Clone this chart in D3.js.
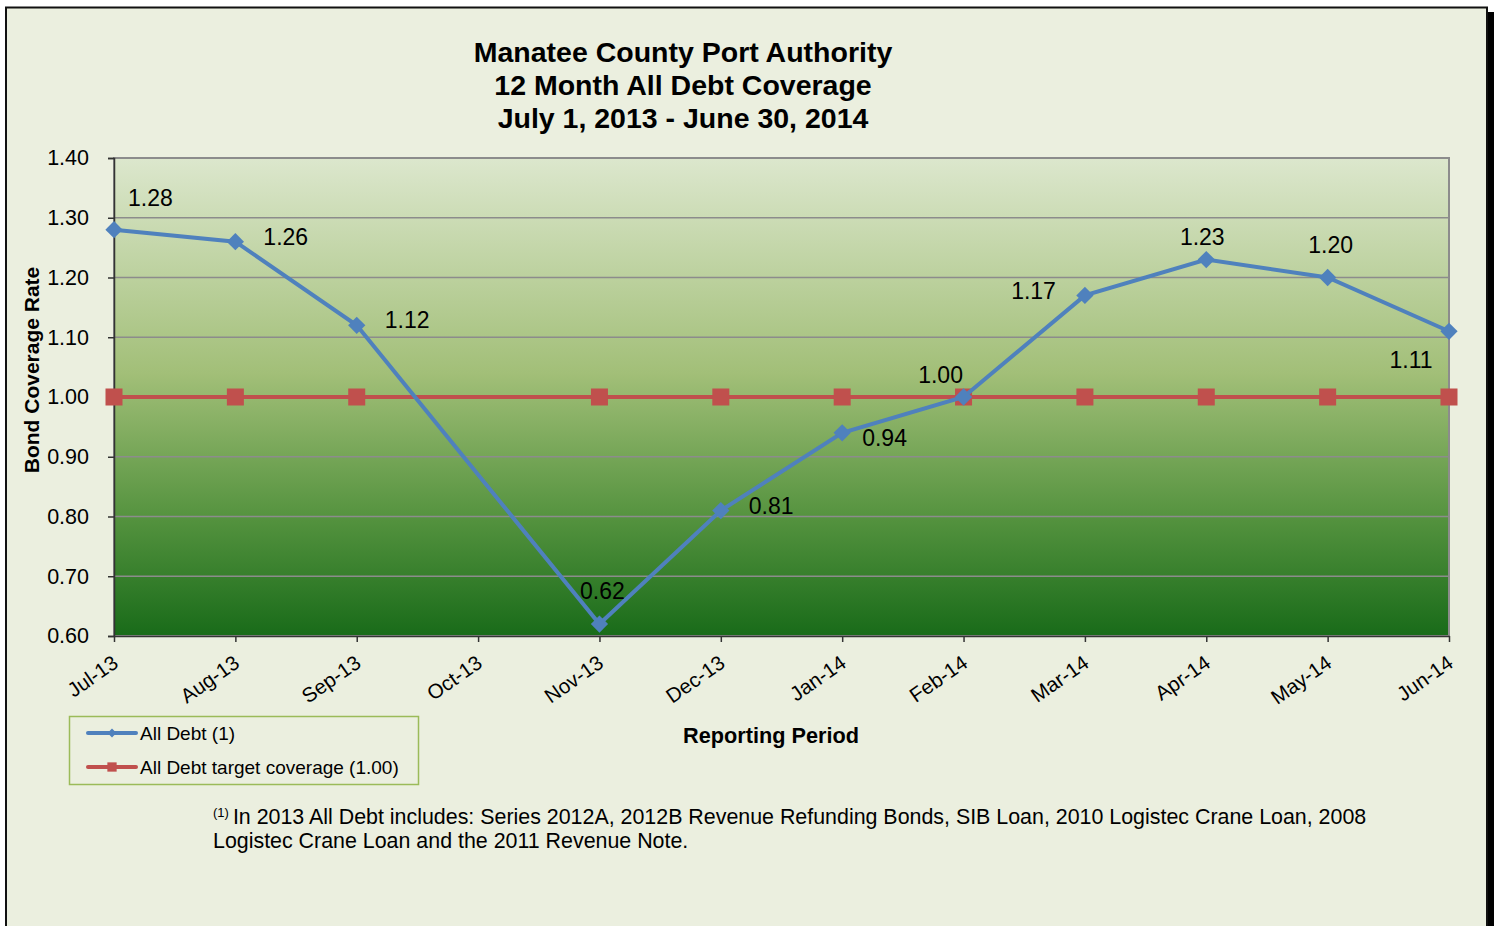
<!DOCTYPE html>
<html>
<head>
<meta charset="utf-8">
<script src="https://cdn.jsdelivr.net/npm/d3@7"></script>
<style>
  body { margin: 0; background: #fff; }
  text { font-family: "Liberation Sans", Arial, sans-serif; fill: #000; }
</style>
</head>
<body>
<svg id="chart" width="1500" height="926"></svg>
<script>
// Data
const months = ['Jul-13', 'Aug-13', 'Sep-13', 'Oct-13', 'Nov-13', 'Dec-13',
    'Jan-14', 'Feb-14', 'Mar-14', 'Apr-14', 'May-14', 'Jun-14'];
const allDebt = [1.28, 1.26, 1.12, null, 0.62, 0.81, 0.94, 1.00, 1.17, 1.23, 1.20, 1.11];
const targetCoverage = [1.00, 1.00, 1.00, null, 1.00, 1.00, 1.00, 1.00, 1.00, 1.00, 1.00, 1.00];
const yTicks = [0.60, 0.70, 0.80, 0.90, 1.00, 1.10, 1.20, 1.30, 1.40];
// where each data label sits relative to its point
const labelSide = ['upright', 'right', 'right', null, 'above', 'right',
    'rightlow', 'upleft', 'left', 'abovenear', 'above', 'downleft'];

const blue = '#4F81BD';
const red = '#C0504D';
const font = '"Liberation Sans", Arial, sans-serif';

const svg = d3.select('#chart');

// outer frame + shadow
svg.append('rect').attr('x', 1487).attr('y', 12).attr('width', 7).attr('height', 930).attr('fill', '#000');
svg.append('rect').attr('x', 6).attr('y', 7.5).attr('width', 1481).attr('height', 940)
    .attr('fill', '#EBEFDF').attr('stroke', '#111').attr('stroke-width', 2);

const margin = {left: 114, right: 1449, top: 158, bottom: 636};

const x = d3.scalePoint().domain(months).range([margin.left, margin.right]);
const y = d3.scaleLinear().domain([0.6, 1.4]).range([margin.bottom, margin.top]);

// plot area gradient
const defs = svg.append('defs');
const grad = defs.append('linearGradient').attr('id', 'plotGrad')
    .attr('x1', 0).attr('y1', 0).attr('x2', 0).attr('y2', 1);
grad.append('stop').attr('offset', '0%').attr('stop-color', '#DCE7CD');
grad.append('stop').attr('offset', '45%').attr('stop-color', '#A2BF78');
grad.append('stop').attr('offset', '75%').attr('stop-color', '#55933F');
grad.append('stop').attr('offset', '100%').attr('stop-color', '#196B19');

svg.append('rect')
    .attr('x', margin.left).attr('y', margin.top)
    .attr('width', margin.right - margin.left).attr('height', margin.bottom - margin.top)
    .attr('fill', 'url(#plotGrad)')
    .attr('stroke', '#8C8C8C').attr('stroke-width', 2);

// gridlines
svg.append('g').selectAll('line')
    .data(yTicks.slice(1, -1))
    .enter().append('line')
    .attr('x1', margin.left).attr('x2', margin.right)
    .attr('y1', d => y(d)).attr('y2', d => y(d))
    .attr('stroke', '#8C8C8C').attr('stroke-width', 1.5);

// y axis
const yAxis = svg.append('g')
    .attr('transform', `translate(${margin.left},0)`)
    .call(d3.axisLeft(y).tickValues(yTicks).tickFormat(d3.format('.2f')).tickSize(6).tickPadding(19));
yAxis.select('.domain').attr('stroke', '#333').attr('stroke-width', 1.5);
yAxis.selectAll('.tick line').attr('stroke', '#333').attr('stroke-width', 1.5);
yAxis.selectAll('.tick text').attr('font-size', 21.5).attr('fill', '#000')
    .attr('font-family', font);

// x axis
const xAxis = svg.append('g')
    .attr('transform', `translate(0,${margin.bottom})`)
    .call(d3.axisBottom(x).tickSize(6).tickSizeOuter(0));
xAxis.select('.domain').attr('stroke', '#333').attr('stroke-width', 1.5);
xAxis.selectAll('.tick line').attr('stroke', '#333').attr('stroke-width', 1.5);
xAxis.selectAll('.tick text')
    .attr('font-size', 20.5).attr('fill', '#000')
    .attr('font-family', font)
    .attr('text-anchor', 'end')
    .attr('dy', 0).attr('y', 0)
    .attr('transform', 'translate(5,30) rotate(-35)');

// lines
const line = d3.line()
    .defined(d => d.v !== null)
    .x(d => x(d.m)).y(d => y(d.v));

const debtPts = months.map((m, i) => ({m, v: allDebt[i], side: labelSide[i]}));
const targetPts = months.map((m, i) => ({m, v: targetCoverage[i]}));

svg.append('path')
    .datum(targetPts.filter(d => d.v !== null))
    .attr('d', line).attr('fill', 'none')
    .attr('stroke', red).attr('stroke-width', 4);

svg.append('g').selectAll('rect')
    .data(targetPts.filter(d => d.v !== null))
    .enter().append('rect')
    .attr('x', d => x(d.m) - 8.5).attr('y', d => y(d.v) - 8.5)
    .attr('width', 17).attr('height', 17)
    .attr('fill', red);

svg.append('path')
    .datum(debtPts.filter(d => d.v !== null))
    .attr('d', line).attr('fill', 'none')
    .attr('stroke', blue).attr('stroke-width', 4);

const diamond = d3.symbol().type(d3.symbolDiamond2).size(190);
svg.append('g').selectAll('path')
    .data(debtPts.filter(d => d.v !== null))
    .enter().append('path')
    .attr('d', diamond)
    .attr('transform', d => `translate(${x(d.m)},${y(d.v)})`)
    .attr('fill', blue);

// data labels
const offsets = {
    upright: [14, -24, 'start'],
    right: [28, 3, 'start'],
    rightlow: [20, 13, 'start'],
    above: [3, -25, 'middle'],
    abovenear: [-4, -15, 'middle'],
    upleft: [-23, -14, 'middle'],
    left: [-29, 4, 'end'],
    downleft: [-38, 37, 'middle']
};
svg.append('g').selectAll('text')
    .data(debtPts.filter(d => d.v !== null))
    .enter().append('text')
    .attr('x', d => x(d.m) + offsets[d.side][0])
    .attr('y', d => y(d.v) + offsets[d.side][1])
    .attr('text-anchor', d => offsets[d.side][2])
    .attr('font-size', 23)
    .text(d => d3.format('.2f')(d.v));

// title
const titleLines = ['Manatee County Port Authority', '12 Month All Debt Coverage', 'July 1, 2013 - June 30, 2014'];
svg.append('g').selectAll('text')
    .data(titleLines)
    .enter().append('text')
    .attr('x', 683).attr('y', (d, i) => 62 + i * 33)
    .attr('text-anchor', 'middle')
    .attr('font-size', 28.5).attr('font-weight', 'bold')
    .text(d => d);

// axis titles
svg.append('text')
    .attr('transform', 'translate(39,370) rotate(-90)')
    .attr('text-anchor', 'middle')
    .attr('font-size', 21).attr('font-weight', 'bold')
    .text('Bond Coverage Rate');

svg.append('text')
    .attr('x', 771).attr('y', 743)
    .attr('text-anchor', 'middle')
    .attr('font-size', 21.7).attr('font-weight', 'bold')
    .text('Reporting Period');

// legend
const legend = svg.append('g');
legend.append('rect')
    .attr('x', 69.5).attr('y', 716.5).attr('width', 349).attr('height', 68)
    .attr('fill', 'none').attr('stroke', '#9BBB59').attr('stroke-width', 1.5);
const legendItems = [
    {name: 'All Debt (1)', color: blue, shape: 'diamond'},
    {name: 'All Debt target coverage (1.00)', color: red, shape: 'square'}
];
const li = legend.selectAll('g.item')
    .data(legendItems).enter().append('g')
    .attr('transform', (d, i) => `translate(0,${733 + i * 34})`);
li.append('line')
    .attr('x1', 88).attr('x2', 136).attr('y1', 0).attr('y2', 0)
    .attr('stroke', d => d.color).attr('stroke-width', 4).attr('stroke-linecap', 'round');
li.append('path')
    .attr('d', d => d.shape === 'diamond'
        ? d3.symbol().type(d3.symbolDiamond2).size(50)()
        : d3.symbol().type(d3.symbolSquare2).size(110)())
    .attr('transform', 'translate(112,0)')
    .attr('fill', d => d.color);
li.append('text')
    .attr('x', 140).attr('y', 7)
    .attr('font-size', 19)
    .text(d => d.name);

// footnote
const note = svg.append('text').attr('font-size', 21.4);
note.append('tspan').attr('x', 213).attr('y', 824).attr('font-size', 13).attr('dy', -7).text('(1)');
note.append('tspan').attr('dy', 7).attr('dx', 4)
    .text('In 2013 All Debt includes: Series 2012A, 2012B Revenue Refunding Bonds, SIB Loan, 2010 Logistec Crane Loan, 2008');
svg.append('text').attr('x', 213).attr('y', 848).attr('font-size', 21.4)
    .text('Logistec Crane Loan and the 2011 Revenue Note.');
</script>
</body>
</html>
